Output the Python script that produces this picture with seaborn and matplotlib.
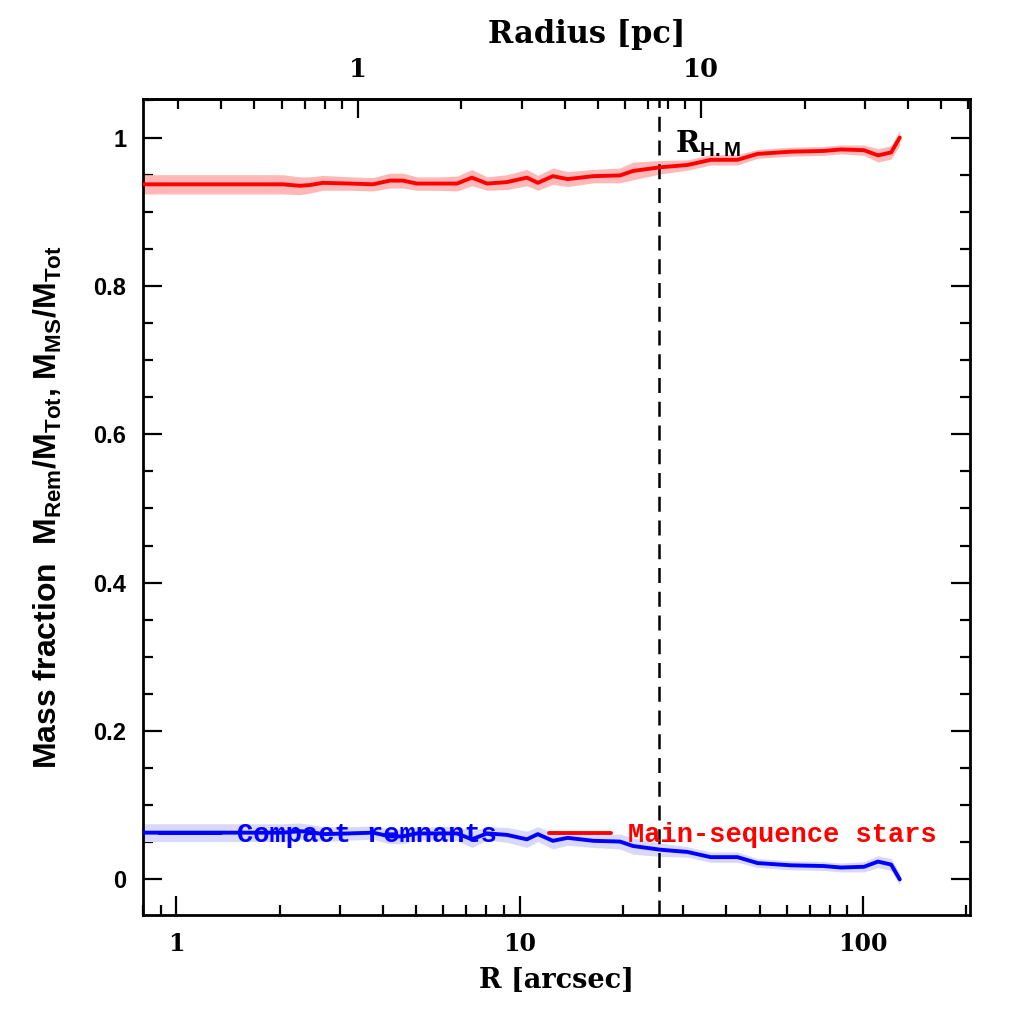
import numpy as np
import pandas as pd
import matplotlib
matplotlib.use("Agg")
import matplotlib.pyplot as plt
import seaborn as sns
from matplotlib.ticker import MultipleLocator, FuncFormatter, FixedLocator, NullFormatter
from matplotlib.lines import Line2D

# ---------------- data ----------------
radius_arcsec = [0.8, 1.2, 1.6, 2.04, 2.29, 2.45, 2.67, 3.2, 3.74, 4.19, 4.57, 5.02,
                 5.8, 6.57, 7.26, 8.04, 9.19, 10.5, 11.3, 12.5, 13.8, 16.4, 19.6,
                 21.4, 25.7, 30.8, 36.0, 43.1, 49.3, 61.6, 76.9, 86.3, 100.7, 110.6,
                 120.8, 128.0]
ms_frac = [0.937, 0.937, 0.937, 0.937, 0.935, 0.936, 0.939, 0.938, 0.937, 0.942, 0.942,
           0.938, 0.938, 0.938, 0.946, 0.938, 0.940, 0.946, 0.939, 0.948, 0.944, 0.948,
           0.949, 0.955, 0.960, 0.963, 0.970, 0.970, 0.978, 0.981, 0.982, 0.984, 0.983,
           0.976, 0.980, 1.000]
ms_err = [0.013, 0.013, 0.013, 0.013, 0.012, 0.011, 0.010, 0.009, 0.009, 0.010, 0.010,
          0.009, 0.009, 0.010, 0.011, 0.009, 0.010, 0.011, 0.010, 0.011, 0.010, 0.009,
          0.010, 0.012, 0.009, 0.007, 0.007, 0.007, 0.006, 0.006, 0.006, 0.006, 0.007,
          0.009, 0.009, 0.010]
rem_frac = [0.063, 0.063, 0.063, 0.063, 0.065, 0.064, 0.061, 0.062, 0.063, 0.058, 0.058,
            0.062, 0.062, 0.062, 0.054, 0.062, 0.060, 0.054, 0.061, 0.052, 0.056, 0.052,
            0.051, 0.045, 0.040, 0.037, 0.030, 0.030, 0.022, 0.019, 0.018, 0.016, 0.017,
            0.024, 0.020, 0.000]
rem_err = [0.012, 0.012, 0.012, 0.012, 0.011, 0.010, 0.010, 0.009, 0.009, 0.010, 0.010,
           0.009, 0.009, 0.010, 0.011, 0.009, 0.010, 0.011, 0.010, 0.011, 0.010, 0.009,
           0.010, 0.011, 0.009, 0.007, 0.007, 0.007, 0.006, 0.006, 0.006, 0.006, 0.007,
           0.008, 0.008, 0.008]
half_mass_radius = 25.4          # arcsec
arcsec_to_pc = 0.296
bottom_major = [1, 10, 100]
bottom_minor = [0.8, 0.9] + [m * d for d in (1, 10) for m in range(2, 10)] + [200]
top_major = [1, 10]
top_minor = [0.3, 0.4, 0.5, 0.6, 0.7, 0.8, 0.9, 2, 3, 4, 5, 6, 7, 8, 9, 20, 30, 40, 50, 60]
series_labels = ["Compact remnants", "Main-sequence stars"]

# ---------------- style ----------------
sns.set_theme(style="ticks")
plt.rcParams["font.family"] = ["DejaVu Serif", "DejaVu Sans"]
plt.rcParams["text.color"] = "black"
plt.rcParams["axes.labelcolor"] = "black"
plt.rcParams["xtick.color"] = "black"
plt.rcParams["ytick.color"] = "black"
plt.rcParams["mathtext.fontset"] = "custom"
plt.rcParams["mathtext.rm"] = "Liberation Sans:bold"
plt.rcParams["mathtext.bf"] = "Liberation Sans:bold"

fig = plt.figure(figsize=(10.24, 10.24), dpi=100)
ax = fig.add_axes([143/1024, 1 - 915/1024, (970-143)/1024, (915-99)/1024])
ax.set_xscale("log")

df = pd.DataFrame({"R": radius_arcsec, "ms": ms_frac, "ms_err": ms_err,
                   "rem": rem_frac, "rem_err": rem_err})

ms_lo = df["ms"] - df["ms_err"]; ms_hi = df["ms"] + df["ms_err"]
rm_lo = df["rem"] - df["rem_err"]; rm_hi = df["rem"] + df["rem_err"]
ax.fill_between(df["R"], ms_lo, ms_hi, color="#ffb8b8", lw=0, zorder=1)
ax.fill_between(df["R"], rm_lo, rm_hi, color="#d8d8fa", lw=0, zorder=1)
sns.lineplot(data=df, x="R", y="ms", ax=ax, color="#ff0000", lw=2.8, zorder=3,
             estimator=None, sort=False)
sns.lineplot(data=df, x="R", y="rem", ax=ax, color="#0000ff", lw=2.8, zorder=3,
             estimator=None, sort=False)

ax.axvline(half_mass_radius, color="black", lw=1.8, ls=(0, (6, 3.5)), zorder=2)
ax.text(28.4, 0.992, r"R$_{\rm H.M}$", fontsize=21, fontweight="bold",
        family="DejaVu Serif", va="center", ha="left", color="black")

ax.set_xlim(0.8, 205)
ax.set_ylim(-0.048, 1.052)

# ticks
ax.yaxis.set_major_locator(MultipleLocator(0.2))
ax.yaxis.set_minor_locator(MultipleLocator(0.05))
ax.yaxis.set_major_formatter(FuncFormatter(lambda v, p: "%g" % round(v, 2)))
ax.xaxis.set_major_locator(FixedLocator(bottom_major))
ax.xaxis.set_minor_locator(FixedLocator(bottom_minor))
ax.xaxis.set_major_formatter(FuncFormatter(lambda v, p: "%g" % v))
ax.xaxis.set_minor_formatter(NullFormatter())
ax.tick_params(which="both", direction="in", right=True, top=False, width=1.6,
               color="black")
ax.tick_params(which="major", length=13.5)
ax.tick_params(which="minor", length=7)
ax.tick_params(axis="x", which="major", pad=12, labelsize=17)
ax.tick_params(axis="y", which="major", pad=12, labelsize=17)
for lab in ax.get_xticklabels():
    lab.set_fontweight("bold"); lab.set_family("DejaVu Serif")
for lab in ax.get_yticklabels():
    lab.set_fontweight("bold"); lab.set_family("Liberation Sans")
for sp in ax.spines.values():
    sp.set_linewidth(2.0); sp.set_color("black")

ax.set_xlabel("R [arcsec]", fontsize=19.5, fontweight="bold", family="DejaVu Serif")
ax.xaxis.set_label_coords(0.5, -0.064)
ax.set_ylabel(r"Mass fraction  M$_{\rm Rem}$/M$_{\rm Tot}$, M$_{\rm MS}$/M$_{\rm Tot}$",
              fontsize=23, fontweight="bold", family="Liberation Sans")
ax.yaxis.set_label_coords(-0.095, 0.5)

# top axis in pc
sec = ax.secondary_xaxis("top", functions=(lambda x: x * arcsec_to_pc,
                                           lambda x: x / arcsec_to_pc))
sec.xaxis.set_major_locator(FixedLocator(top_major))
sec.xaxis.set_minor_locator(FixedLocator(top_minor))
sec.xaxis.set_major_formatter(FuncFormatter(lambda v, p: "%g" % v))
sec.xaxis.set_minor_formatter(NullFormatter())
sec.tick_params(which="both", direction="in", width=1.6, color="black")
sec.tick_params(which="major", length=13.5, pad=12, labelsize=18.5)
sec.tick_params(which="minor", length=7)
for lab in sec.get_xticklabels():
    lab.set_fontweight("bold"); lab.set_family("DejaVu Serif")
sec.spines["top"].set_linewidth(2.0)
sec.set_xlabel("Radius [pc]", fontsize=22, fontweight="bold", family="DejaVu Serif")
sec.xaxis.set_label_coords(0.536, 1.069, transform=ax.transAxes)

# legends (PGPLOT style, two separate entries)
mono = {"family": "Liberation Mono", "weight": "bold", "size": 19.5}
h1 = Line2D([], [], color="#0000ff", lw=2.8)
h2 = Line2D([], [], color="#ff0000", lw=2.8)
leg1 = ax.legend([h1], [series_labels[0]], loc="center left",
                 bbox_to_anchor=(0.019, 0.098), frameon=False, prop=mono,
                 handlelength=2.3, handletextpad=0.6, borderpad=0, borderaxespad=0,
                 labelcolor="#0000ff")
ax.add_artist(leg1)
leg2 = ax.legend([h2], [series_labels[1]], loc="center left",
                 bbox_to_anchor=(0.491, 0.098), frameon=False, prop=mono,
                 handlelength=2.3, handletextpad=0.6, borderpad=0, borderaxespad=0,
                 labelcolor="#ff0000")
leg1.set_zorder(5); leg2.set_zorder(5)

fig.savefig("out.png", dpi=100, facecolor="white")
